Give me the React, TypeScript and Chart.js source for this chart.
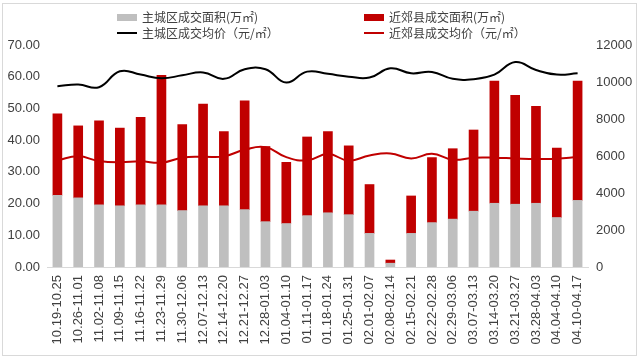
import React, { useEffect, useRef } from "react";
import { Chart, registerables } from "chart.js";

Chart.register(...registerables);

const categories = [
  "10.19-10.25", "10.26-11.01", "11.02-11.08", "11.09-11.15", "11.16-11.22",
  "11.23-11.29", "11.30-12.06", "12.07-12.13", "12.14-12.20", "12.21-12.27",
  "12.28-01.03", "01.04-01.10", "01.11-01.17", "01.18-01.24", "01.25-01.31",
  "02.01-02.07", "02.08-02.14", "02.15-02.21", "02.22-02.28", "02.29-03.06",
  "03.07-03.13", "03.14-03.20", "03.21-03.27", "03.28-04.03", "04.04-04.10",
  "04.10-04.17",
];

// 主城区成交面积 (万㎡)
const mainArea = [
  22.6, 21.8, 19.6, 19.3, 19.6, 19.6, 17.8, 19.3, 19.3, 18.1,
  14.3, 13.7, 16.2, 17.1, 16.5, 10.6, 1.2, 10.6, 14.0, 15.1,
  17.6, 20.1, 19.8, 20.1, 15.6, 21.0,
];

// 近郊县成交面积 (万㎡)
const suburbArea = [
  25.7, 22.7, 26.5, 24.5, 27.6, 40.8, 27.1, 32.1, 23.4, 34.3,
  23.7, 19.3, 24.8, 25.6, 21.7, 15.4, 1.0, 11.8, 20.5, 22.2,
  25.6, 38.5, 34.3, 30.6, 21.9, 37.6,
];

// 主城区成交均价 (元/㎡)
const mainPrice = [
  9770, 9860, 9720, 10580, 10400, 10200, 10360, 10520, 10170, 10690,
  10690, 9970, 10560, 10440, 10290, 10240, 10740, 10470, 10540, 10170,
  10150, 10400, 11080, 10650, 10400, 10470,
];

// 近郊县成交均价 (元/㎡)
const suburbPrice = [
  5765, 5980, 5730, 5660, 5710, 5640, 5910, 5960, 5980, 6340,
  6480, 5940, 5765, 6110, 5750, 6030, 6140, 5870, 6120, 5800,
  5910, 5910, 5870, 5840, 5850, 5940,
];

const leftTicks = [0, 10, 20, 30, 40, 50, 60, 70];
const rightTicks = [0, 2000, 4000, 6000, 8000, 10000, 12000];

const GREY = "#bfbfbf";
const RED = "#c00000";
const BLACK = "#000000";
const TEXT = "#404040";
const TICK_FONT = { family: "'Liberation Sans', Arial, sans-serif", size: 13 };

const legendItems = [
  { label: "主城区成交面积(万㎡)", color: GREY, kind: "box" },
  { label: "近郊县成交面积(万㎡)", color: RED, kind: "box" },
  { label: "主城区成交均价（元/㎡）", color: BLACK, kind: "line" },
  { label: "近郊县成交均价（元/㎡）", color: RED, kind: "line" },
];

export default function App() {
  const canvasRef = useRef<HTMLCanvasElement | null>(null);

  useEffect(() => {
    const canvas = canvasRef.current;
    if (!canvas) return;
    const chart = new Chart(canvas, {
      type: "bar",
      data: {
        labels: categories,
        datasets: [
          {
            type: "line",
            label: "主城区成交均价（元/㎡）",
            data: mainPrice,
            yAxisID: "y1",
            borderColor: BLACK,
            backgroundColor: BLACK,
            borderWidth: 2,
            pointRadius: 0,
            tension: 0.45,
            order: 0,
          } as any,
          {
            type: "line",
            label: "近郊县成交均价（元/㎡）",
            data: suburbPrice,
            yAxisID: "y1",
            borderColor: RED,
            backgroundColor: RED,
            borderWidth: 2,
            pointRadius: 0,
            tension: 0.45,
            order: 0,
          } as any,
          {
            type: "bar",
            label: "主城区成交面积(万㎡)",
            data: mainArea,
            yAxisID: "y",
            backgroundColor: GREY,
            barThickness: 9,
            stack: "area",
            order: 1,
          },
          {
            type: "bar",
            label: "近郊县成交面积(万㎡)",
            data: suburbArea,
            yAxisID: "y",
            backgroundColor: RED,
            barThickness: 9,
            stack: "area",
            order: 1,
          },
        ],
      },
      options: {
        responsive: false,
        animation: false,
        layout: { padding: { top: 45, bottom: 0, left: 0, right: 0 } },
        plugins: {
          legend: { display: false },
          tooltip: { enabled: false },
        },
        scales: {
          x: {
            stacked: true,
            grid: { display: false, drawTicks: false },
            border: { display: true, color: "#d9d9d9", width: 1 },
            ticks: {
              autoSkip: false,
              maxRotation: 90,
              minRotation: 90,
              padding: 8,
              color: TEXT,
              font: TICK_FONT,
            },
            afterFit: (scale: any) => {
              scale.height = 93;
            },
          },
          y: {
            type: "linear",
            position: "left",
            stacked: true,
            min: 0,
            max: 70,
            grid: { display: false, drawTicks: false },
            border: { display: false },
            afterBuildTicks: (scale: any) => {
              scale.ticks = leftTicks.map((v) => ({ value: v }));
            },
            ticks: {
              padding: 7,
              color: TEXT,
              font: TICK_FONT,
              callback: (v: any) => Number(v).toFixed(2),
            },
            afterFit: (scale: any) => {
              scale.width = 47;
            },
          },
          y1: {
            type: "linear",
            position: "right",
            stacked: false,
            min: 0,
            max: 12000,
            grid: { display: false, drawTicks: false },
            border: { display: false },
            afterBuildTicks: (scale: any) => {
              scale.ticks = rightTicks.map((v) => ({ value: v }));
            },
            ticks: {
              padding: 8,
              color: TEXT,
              font: TICK_FONT,
              callback: (v: any) => String(v),
            },
            afterFit: (scale: any) => {
              scale.width = 52;
            },
          },
        },
      },
    });
    return () => chart.destroy();
  }, []);

  return (
    <div
      style={{
        position: "fixed",
        left: 0,
        top: 0,
        width: 640,
        height: 360,
        background: "#ffffff",
        overflow: "hidden",
      }}
    >
      <canvas
        ref={canvasRef}
        width={640}
        height={360}
        style={{ position: "absolute", left: 0, top: 0, width: 640, height: 360 }}
      />
      <div
        style={{
          position: "absolute",
          left: 2,
          top: 3,
          width: 633,
          height: 351,
          border: "1px solid #d9d9d9",
          pointerEvents: "none",
        }}
      />
      {legendItems.map((item, i) => {
        const col = i % 2;
        const row = Math.floor(i / 2);
        const left = col === 0 ? 117 : 364;
        const top = row === 0 ? 9 : 25;
        return (
          <div
            key={item.label}
            style={{
              position: "absolute",
              left,
              top,
              height: 16,
              display: "flex",
              alignItems: "center",
              fontFamily: "'Noto Sans CJK SC', sans-serif",
              fontSize: 12,
              color: TEXT,
              whiteSpace: "nowrap",
              lineHeight: "16px",
            }}
          >
            <span
              style={{
                display: "inline-block",
                width: 20,
                height: item.kind === "box" ? 7 : 2,
                background: item.color,
                marginRight: 5,
              }}
            />
            <span>{item.label}</span>
          </div>
        );
      })}
    </div>
  );
}
